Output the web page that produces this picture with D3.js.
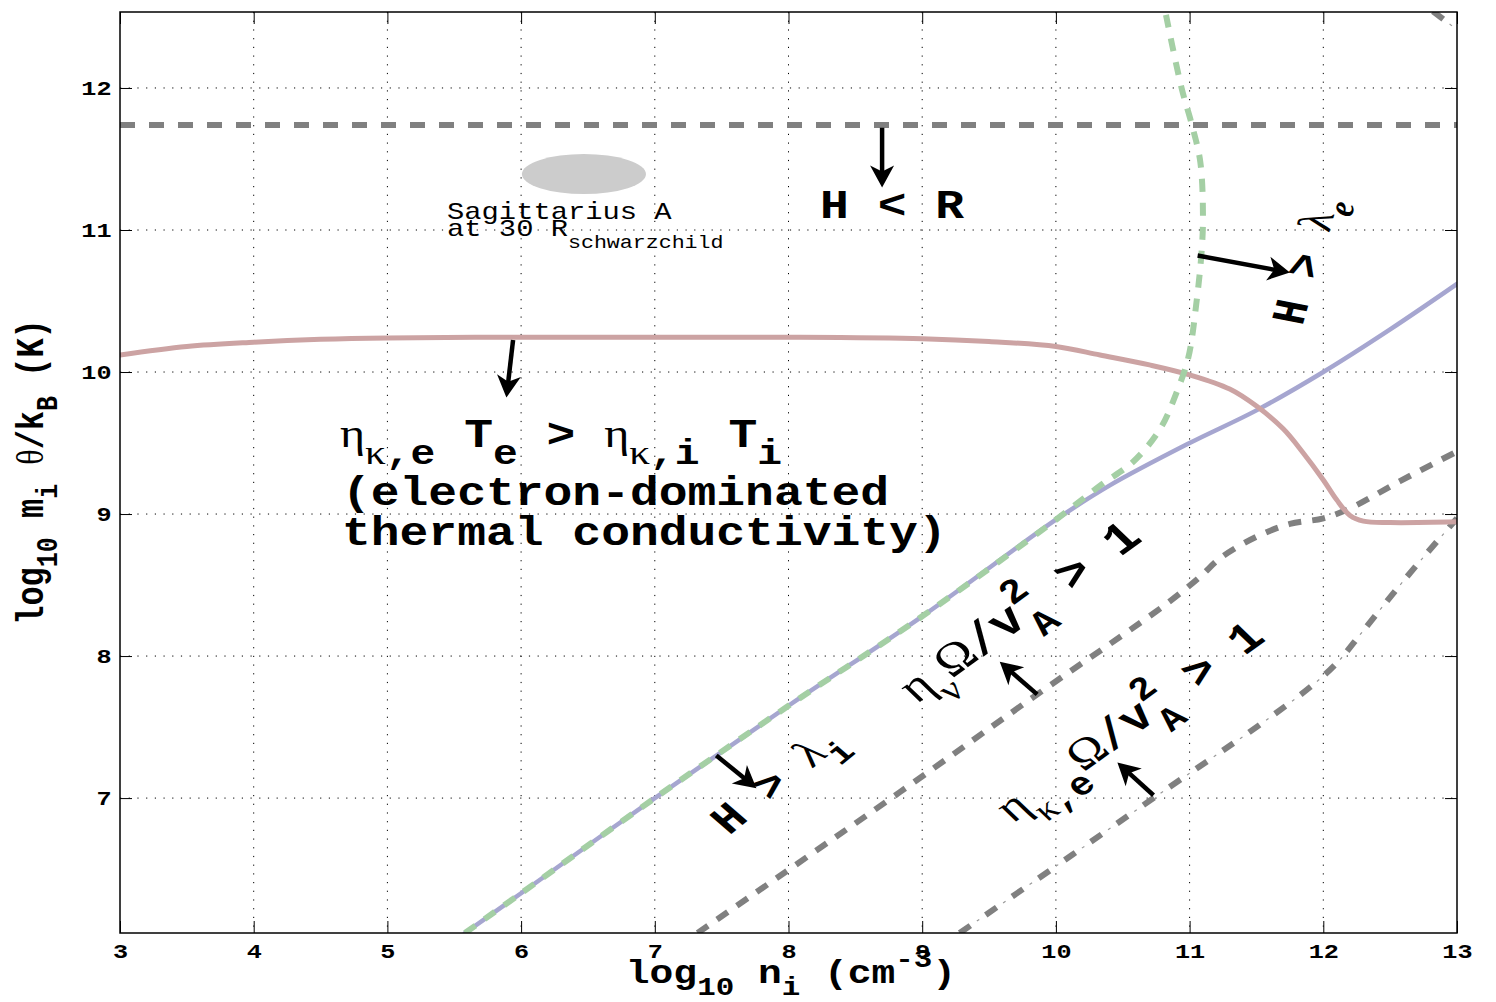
<!DOCTYPE html>
<meta charset="utf-8">
<style>
body{margin:0;background:#fff;}
</style>
<body>
<script src="https://d3js.org/d3.v7.min.js"></script>
<script>
var width = 1496, height = 1002;
var mono = "'Liberation Mono','Courier New',monospace",
    serif = "'Liberation Serif','DejaVu Serif',serif";

// tick values
var xTicks = [3,4,5,6,7,8,9,10,11,12,13];
var yTicks = [7,8,9,10,11,12];

// H < R : horizontal limit
var hrX = [3, 13];
var hrY = [11.74, 11.74];

// electron vs ion conductivity boundary (pink)
var condX = [3, 3.5, 4, 4.5, 5, 6, 7, 8, 9, 9.5, 10, 10.33, 10.7, 11, 11.3, 11.5, 11.7, 11.85, 12, 12.1, 12.2, 12.3, 12.5, 13];
var condY = [10.12, 10.18, 10.21, 10.23, 10.24, 10.245, 10.245, 10.245, 10.235, 10.215, 10.18, 10.12, 10.05, 9.98, 9.88, 9.76, 9.6, 9.43, 9.24, 9.1, 8.99, 8.95, 8.94, 8.945];

// H > lambda_i (blue)
var lamiX = [5.58, 6, 7, 8, 9, 10, 10.4, 11, 11.5, 12, 12.5, 13];
var lamiY = [6.05, 6.33, 7.0, 7.65, 8.28, 8.96, 9.2, 9.5, 9.73, 10.0, 10.3, 10.62];

// H > lambda_e (green dashed)
var lameX = [5.58, 6, 7, 8, 9, 10, 10.33, 10.58, 10.78, 10.9, 10.99, 11.05, 11.09, 11.1, 11.08, 11.02, 10.94, 10.82];
var lameY = [6.05, 6.33, 7.0, 7.65, 8.28, 8.96, 9.2, 9.37, 9.6, 9.85, 10.1, 10.48, 10.85, 11.1, 11.48, 11.73, 12.0, 12.53];

// viscous limit (gray dashed)
var viscX = [7.32, 8.83, 9.83, 10.83, 11.08, 11.23, 11.5, 11.75, 12.0, 12.2, 12.57, 13];
var viscY = [6.05, 7.04, 7.71, 8.37, 8.56, 8.69, 8.84, 8.93, 8.97, 9.04, 9.23, 9.44];

// conductive limit (gray dash-dot)
var kapX = [9.28, 10, 10.73, 11.5, 11.9, 12.1, 12.3, 12.6, 13];
var kapY = [6.05, 6.52, 7.0, 7.5, 7.78, 7.95, 8.18, 8.53, 8.97];
var kapTopX = [12.82, 13];
var kapTopY = [12.54, 12.41];

// arrows: tail x, tail y, head x, head y
var arrows = [
  [8.70, 11.72, 8.70, 11.30],
  [5.94, 10.225, 5.89, 9.82],
  [11.06, 10.82, 11.75, 10.70],
  [7.46, 7.30, 7.76, 7.07],
  [9.86, 7.73, 9.58, 7.96],
  [10.73, 7.02, 10.46, 7.25]
];

var svg = d3.select("body").append("svg")
    .attr("width", width)
    .attr("height", height);

var x = d3.scaleLinear().domain([3, 13]).range([120, 1457]);
var y = d3.scaleLinear().domain([6.05, 12.535]).range([933, 12]);

svg.append("clipPath").attr("id","plot")
  .append("rect").attr("x",120).attr("y",12).attr("width",1337).attr("height",921);

// dotted grid
var grid = svg.append("g").attr("stroke","#000").attr("stroke-width",1).attr("stroke-dasharray","1.2,7.5");
grid.selectAll(".gx").data(xTicks.slice(1,-1)).enter().append("line")
  .attr("x1",d=>x(d)).attr("x2",d=>x(d)).attr("y1",12).attr("y2",933);
grid.selectAll(".gy").data(yTicks).enter().append("line")
  .attr("y1",d=>y(d)).attr("y2",d=>y(d)).attr("x1",120).attr("x2",1457);

var line = d3.line().x(d=>x(d[0])).y(d=>y(d[1])).curve(d3.curveCatmullRom.alpha(0.5));
var lines = svg.append("g").attr("clip-path","url(#plot)").attr("fill","none");

lines.append("path").datum(d3.zip(hrX,hrY)).attr("d",line)
  .attr("stroke","#808080").attr("stroke-width",6).attr("stroke-dasharray","15,14");
lines.append("path").datum(d3.zip(viscX,viscY)).attr("d",line)
  .attr("stroke","#808080").attr("stroke-width",6).attr("stroke-dasharray","13,11");
[d3.zip(kapX,kapY), d3.zip(kapTopX,kapTopY)].forEach(function(dd){
  lines.append("path").datum(dd).attr("d",line)
    .attr("stroke","#808080").attr("stroke-width",6).attr("stroke-dasharray","13,19");
  lines.append("path").datum(dd).attr("d",line)
    .attr("stroke","#999").attr("stroke-width",1.2).attr("stroke-dasharray","0,21,3,8");
});
lines.append("path").datum(d3.zip(lamiX,lamiY)).attr("d",line)
  .attr("stroke","#a6a6d0").attr("stroke-width",4.5).attr("stroke-linecap","round");
lines.append("path").datum(d3.zip(condX,condY)).attr("d",line)
  .attr("stroke","#cca3a3").attr("stroke-width",5).attr("stroke-linecap","round");
lines.append("path").datum(d3.zip(lameX,lameY)).attr("d",line)
  .attr("stroke","#a4cfa4").attr("stroke-width",6).attr("stroke-dasharray","13,11");

// axes
function styleAxis(g){
  g.attr("font-family",mono);
  g.select(".domain").remove();
  g.selectAll(".tick line").attr("stroke","#000");
  g.selectAll("text").attr("font-size",21).attr("font-weight","bold").attr("fill","#000");
}
svg.append("g").attr("transform","translate(0,933)")
  .call(d3.axisBottom(x).tickValues(xTicks).tickSize(-12).tickPadding(10).tickFormat(d3.format("d")))
  .call(styleAxis)
  .selectAll("text").attr("transform","scale(1.2,1)");
svg.append("g").attr("transform","translate(120,0)")
  .call(d3.axisLeft(y).tickValues(yTicks).tickSize(-12).tickPadding(7).tickFormat(d3.format("d")))
  .call(styleAxis)
  .selectAll("text").attr("transform","scale(1.2,1)");
svg.append("g").attr("transform","translate(0,12)")
  .call(d3.axisTop(x).tickValues(xTicks).tickSize(-12).tickFormat(""))
  .call(styleAxis);
svg.append("g").attr("transform","translate(1457,0)")
  .call(d3.axisRight(y).tickValues(yTicks).tickSize(-12).tickFormat(""))
  .call(styleAxis);
svg.append("rect").attr("x",120).attr("y",12).attr("width",1337).attr("height",921)
  .attr("fill","none").attr("stroke","#000").attr("stroke-width",1.5);

// text with sub / superscripts
function rich(parent, parts, size, tf, weight, sub, subSize){
  sub = sub || 0.36;
  subSize = subSize || 0.78;
  var t = parent.append("text").attr("font-family",mono).attr("font-weight",weight||"bold")
    .attr("font-size",size).attr("transform",tf).attr("fill","#000");
  var off = {"0":0, "1":sub*size, "-1":-0.5*size}, cur = 0;
  parts.forEach(function(p){
    var lv = p.lv || 0;
    var s = t.append("tspan").text(p.t).attr("dy", off[lv]-off[cur]);
    cur = lv;
    if (lv !== 0) s.attr("font-size", size*subSize);
    if (p.dx) s.attr("dx", p.dx);
    if (p.g) s.attr("font-family",serif).attr("font-weight","normal");
    if (p.it) s.attr("font-style","italic").attr("font-weight","bold");
  });
  return t;
}

// axis labels
rich(svg, [{t:"log"},{t:"10",lv:1},{t:" n"},{t:"i",lv:1},{t:" (cm"},{t:"-3",lv:-1},{t:")"}], 33,
  "translate(791,983) scale(1.2,1)").attr("text-anchor","middle");
rich(svg, [{t:"log"},{t:"10",lv:1},{t:" m"},{t:"i",lv:1},{t:" "},{t:"θ",g:1},{t:"/k"},{t:"B",lv:1},{t:" (K)"}], 32,
  "translate(43,472) scale(1.2,1) rotate(-90)").attr("text-anchor","middle");

// Sagittarius A
var notes = svg.append("g");
notes.append("ellipse").attr("cx",x(6.47)).attr("cy",y(11.394))
  .attr("rx",x(6.47+0.464)-x(6.47)).attr("ry",y(11.394)-y(11.394+0.141)).attr("fill","#cccccc");
rich(notes, [{t:"Sagittarius A"}], 24, "translate("+x(5.446)+","+y(11.077)+") scale(1.2,1)", "normal");
rich(notes, [{t:"at 30 R"}], 24, "translate("+x(5.446)+","+y(10.958)+") scale(1.2,1)", "normal")
  .append("tspan").text("schwarzchild").attr("font-size",18).attr("dy",12);

rich(notes, [{t:"H < R"}], 40, "translate("+x(8.236)+","+y(11.085)+") scale(1.2,1)");

rich(notes, [{t:"η",g:1},{t:"κ",lv:1,g:1},{t:",e",lv:1},{t:" T"},{t:"e",lv:1},{t:" > "},{t:"η",g:1},{t:"κ",lv:1,g:1},{t:",i",lv:1},{t:" T"},{t:"i",lv:1}],
  40, "translate("+x(4.645)+","+y(9.47)+") scale(1.2,1)", "bold", 0.42, 0.86);
rich(notes, [{t:"(electron-dominated"}], 40, "translate("+x(4.66)+","+y(9.063)+") scale(1.2,1)");
rich(notes, [{t:"thermal conductivity)"}], 40, "translate("+x(4.66)+","+y(8.782)+") scale(1.2,1)");

rich(notes, [{t:"H > "},{t:"λ",g:1},{t:"e",lv:1,g:1,it:1}], 40,
  "translate("+x(11.843)+","+y(10.32)+") scale(1.2,1) rotate(-76.6)");
rich(notes, [{t:"H > "},{t:"λ",g:1},{t:"i",lv:1}], 40,
  "translate("+x(7.555)+","+y(6.735)+") scale(1.2,1) rotate(-44)");
rich(notes, [{t:"η",g:1},{t:"ν",lv:1,g:1},{t:"Ω",g:1},{t:"/v"},{t:"A",lv:1},{t:"2",lv:-1,dx:-20},{t:" > 1"}], 44,
  "translate("+x(8.96)+","+y(7.66)+") scale(1.2,1) rotate(-41)", "bold", 0.42);
rich(notes, [{t:"η",g:1},{t:"κ",lv:1,g:1},{t:",e",lv:1},{t:"Ω",g:1},{t:"/v"},{t:"A",lv:1},{t:"2",lv:-1,dx:-19},{t:" > 1"}], 42,
  "translate("+x(9.68)+","+y(6.82)+") scale(1.2,1) rotate(-41)", "bold", 0.42);

// arrows
var ag = svg.append("g");
arrows.forEach(function(a){
  var x1=x(a[0]), y1=y(a[1]), x2=x(a[2]), y2=y(a[3]);
  var dx=x2-x1, dy=y2-y1, L=Math.hypot(dx,dy), ux=dx/L, uy=dy/L, px=-uy, py=ux;
  var hl=22, hw=12;
  var bx=x2-ux*hl, by=y2-uy*hl;
  ag.append("line").attr("x1",x1).attr("y1",y1).attr("x2",x2-ux*hl*0.6).attr("y2",y2-uy*hl*0.6)
    .attr("stroke","#000").attr("stroke-width",4.5);
  ag.append("path").attr("fill","#000")
    .attr("d","M"+x2+","+y2+"L"+(bx+px*hw)+","+(by+py*hw)+"L"+(x2-ux*hl*0.72)+","+(y2-uy*hl*0.72)+"L"+(bx-px*hw)+","+(by-py*hw)+"Z");
});
</script>
